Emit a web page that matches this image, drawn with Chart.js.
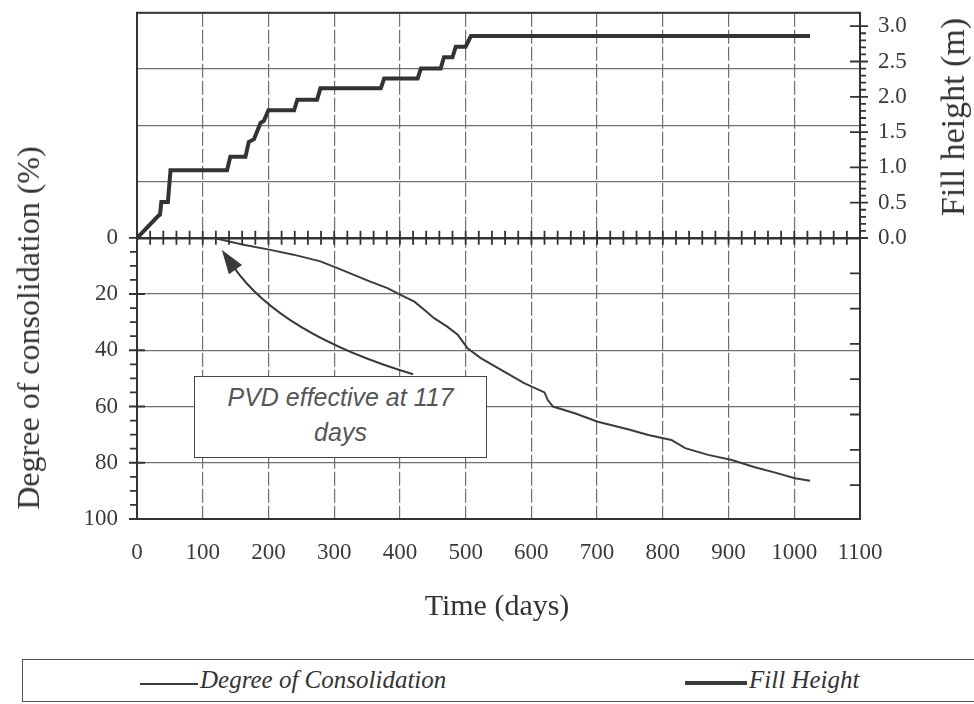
<!DOCTYPE html>
<html>
<head>
<meta charset="utf-8">
<script src="https://cdn.jsdelivr.net/npm/chart.js@4.4.1/dist/chart.umd.min.js"></script>
<style>
  html, body { margin: 0; padding: 0; background: #fff; }
  #wrap { position: relative; width: 974px; height: 704px; overflow: hidden; background: #fff; }
  #chart { position: absolute; left: 0; top: -20px; }
  .t { position: absolute; font-family: "Liberation Serif", "Times New Roman", serif; color: #333; white-space: nowrap; line-height: 1; }
  #ytitle { left: 28px; top: 328px; font-size: 32px; transform: translate(-50%, -50%) rotate(-90deg); }
  #y2title { left: 953px; top: 117px; font-size: 34px; transform: translate(-50%, -50%) rotate(-90deg); }
  #xtitle { left: 497px; top: 605px; font-size: 30px; transform: translate(-50%, -50%); }
  #legend { position: absolute; left: 22px; top: 659px; width: 1000px; height: 43px; border: 1.5px solid #555; box-sizing: border-box; background: #fff; }
  .swatch { position: absolute; background: #3a3a3a; }
  .ltext { position: absolute; font-family: "Liberation Serif", "Times New Roman", serif; font-style: italic; font-size: 25px; color: #333; white-space: nowrap; line-height: 1; }
  #note { position: absolute; left: 194px; top: 376px; width: 293px; height: 82px; box-sizing: border-box; border: 1.5px solid #444; background: #fff;
          font-family: "Liberation Sans", Arial, sans-serif; font-style: italic; font-size: 25px; color: #555; text-align: center; line-height: 35px; padding-top: 3px; }
</style>
</head>
<body>
<div id="wrap">
  <canvas id="chart" width="974" height="724"></canvas>
  <div class="t" id="ytitle">Degree of consolidation (%)</div>
  <div class="t" id="y2title">Fill height (m)</div>
  <div class="t" id="xtitle">Time (days)</div>
  <div id="note">PVD effective at 117<br>days</div>
  <div id="legend"></div>
  <div class="swatch" style="left:140px; top:683px; width:58px; height:2px;"></div>
  <div class="ltext" style="left:200px; top:667px;">Degree of Consolidation</div>
  <div class="swatch" style="left:685px; top:681px; width:62px; height:4px;"></div>
  <div class="ltext" style="left:749px; top:667px;">Fill Height</div>
</div>
<script>
// ---------- data ----------
const xTickValues = [0, 100, 200, 300, 400, 500, 600, 700, 800, 900, 1000, 1100];
const consTickValues = [0, 20, 40, 60, 80, 100];
const fillTickValues = [0, 0.5, 1.0, 1.5, 2.0, 2.5, 3.0];

// Fill height (m) vs time (days)
const fillDays    = [0, 32, 35, 37, 47, 51, 137, 142, 165, 170, 178, 188, 193, 200, 239, 244, 274, 279, 371, 376, 427, 432, 462, 467, 480, 485, 500, 508, 1024];
const fillHeights = [0, 0.31, 0.33, 0.51, 0.51, 0.96, 0.96, 1.15, 1.15, 1.36, 1.40, 1.63, 1.66, 1.81, 1.81, 1.96, 1.96, 2.12, 2.12, 2.26, 2.26, 2.40, 2.40, 2.56, 2.56, 2.71, 2.71, 2.86, 2.86];

// Degree of consolidation (%) vs time (days)
const consDays   = [117, 121, 162, 203, 238, 279, 305, 330, 355, 381, 401, 422, 437, 452, 472, 488, 503, 523, 554, 589, 620, 625, 633, 666, 701, 747, 778, 813, 834, 869, 905, 940, 971, 1001, 1024];
const consDegree = [0, 0.3, 2.5, 4.3, 6.0, 8.4, 10.8, 13.2, 15.6, 17.9, 20.3, 22.7, 25.6, 28.6, 31.6, 34.5, 39.3, 42.8, 47.0, 51.7, 55.0, 57.7, 60.0, 62.4, 65.4, 68.1, 70.1, 71.9, 74.8, 77.2, 79.0, 81.6, 83.5, 85.5, 86.4];

// annotation arrow anchors (days, %)
const arrowTail = { day: 420, pct: 48.5 };
const arrowCtrl = { day: 218, pct: 34.3 };
const arrowTip  = { day: 129, pct: 4.3 };

const tickFont = { family: "'Liberation Serif', 'Times New Roman', serif", size: 23 };
const inkColor = '#3a3a3a';

const decor = {
  id: 'decor',
  afterDatasetsDraw(chart) {
    const { ctx, chartArea: a, scales: { x, y, y2 } } = chart;
    ctx.save();
    ctx.strokeStyle = '#333';
    ctx.lineWidth = 2;
    ctx.strokeRect(a.left, a.top, a.right - a.left, a.bottom - a.top);

    ctx.beginPath();
    ctx.lineWidth = 1.8;
    const y0 = y.getPixelForValue(0);
    for (let d = 0; d <= 1100; d += 20) {
      const px = x.getPixelForValue(d);
      ctx.moveTo(px, y0 - 7); ctx.lineTo(px, y0 + 7);
    }
    for (let v = 0; v <= 100; v += 5) {
      const py = y.getPixelForValue(v);
      if (v % 20 === 0) { ctx.moveTo(a.left - 8, py); ctx.lineTo(a.left + 8, py); }
      else { ctx.moveTo(a.left - 7, py); ctx.lineTo(a.left, py); }
    }
    for (let i = 0; i <= 30; i++) {
      const py = y2.getPixelForValue(i / 10);
      if (i % 5 === 0) { ctx.moveTo(a.right - 10, py); ctx.lineTo(a.right + 8, py); }
      else { ctx.moveTo(a.right, py); ctx.lineTo(a.right + 6, py); }
    }
    for (let i = 1; i <= 7; i++) {
      const py = y2.getPixelForValue(-0.5 * i);
      ctx.moveTo(a.right - 10, py); ctx.lineTo(a.right, py);
    }
    ctx.stroke();

    // arrow
    const P = p => [x.getPixelForValue(p.day), y.getPixelForValue(p.pct)];
    const t0 = P(arrowTail), c = P(arrowCtrl), tp = P(arrowTip);
    let dx = tp[0] - c[0], dy = tp[1] - c[1];
    const len = Math.hypot(dx, dy); dx /= len; dy /= len;
    const headLen = 24, headW = 8;
    const base = [tp[0] - dx * headLen, tp[1] - dy * headLen];
    ctx.strokeStyle = inkColor; ctx.fillStyle = inkColor; ctx.lineWidth = 2;
    ctx.beginPath();
    ctx.moveTo(t0[0], t0[1]);
    ctx.quadraticCurveTo(c[0], c[1], base[0] + dx * 4, base[1] + dy * 4);
    ctx.stroke();
    ctx.beginPath();
    ctx.moveTo(tp[0], tp[1]);
    ctx.lineTo(base[0] - dy * headW, base[1] + dx * headW);
    ctx.lineTo(base[0] + dy * headW, base[1] - dx * headW);
    ctx.closePath();
    ctx.fill();
    ctx.restore();
  }
};

new Chart(document.getElementById('chart'), {
  type: 'line',
  data: {
    datasets: [
      {
        label: 'Degree of Consolidation',
        data: consDays.map((d, i) => ({ x: d, y: consDegree[i] })),
        yAxisID: 'y',
        borderColor: '#3c3c3c',
        borderWidth: 2,
        pointRadius: 0,
        tension: 0,
        fill: false
      },
      {
        label: 'Fill Height',
        data: fillDays.map((d, i) => ({ x: d, y: fillHeights[i] })),
        yAxisID: 'y2',
        borderColor: '#333',
        borderWidth: 4,
        pointRadius: 0,
        tension: 0,
        fill: false
      }
    ]
  },
  options: {
    responsive: false,
    devicePixelRatio: 1,
    animation: false,
    layout: { padding: 0 },
    plugins: { legend: { display: false }, tooltip: { enabled: false } },
    scales: {
      x: {
        type: 'linear', position: 'bottom', min: 0, max: 1100,
        afterBuildTicks: s => { s.ticks = xTickValues.map(v => ({ value: v })); },
        afterFit: s => { s.height = 185; },
        ticks: { font: tickFont, color: inkColor, padding: 20, maxRotation: 0, autoSkip: false, callback: v => String(v) },
        grid: { color: '#707070', lineWidth: 1.2, drawTicks: false },
        border: { display: false, dash: [14, 3] }
      },
      y: {
        type: 'linear', position: 'left', reverse: true, min: -80, max: 100,
        afterBuildTicks: s => { const t = []; for (let v = -80; v <= 100; v += 20) t.push({ value: v }); s.ticks = t; },
        afterFit: s => { s.width = 137; },
        ticks: { font: tickFont, color: inkColor, padding: 19, autoSkip: false, callback: v => consTickValues.includes(v) ? String(v) : '' },
        grid: {
          color: c => (c.tick && c.tick.value === 0) ? '#333' : '#707070',
          lineWidth: c => (c.tick && c.tick.value === 0) ? 2.4 : 1.2,
          drawTicks: false
        },
        border: { display: false }
      },
      y2: {
        type: 'linear', position: 'right', min: -3.98, max: 3.19,
        afterBuildTicks: s => { s.ticks = fillTickValues.map(v => ({ value: v })); },
        afterFit: s => { s.width = 114; },
        ticks: { font: tickFont, color: inkColor, padding: 18, autoSkip: false, callback: v => Number(v).toFixed(1) },
        grid: { drawOnChartArea: false, drawTicks: false },
        border: { display: false }
      }
    }
  },
  plugins: [decor]
});
</script>
</body>
</html>
